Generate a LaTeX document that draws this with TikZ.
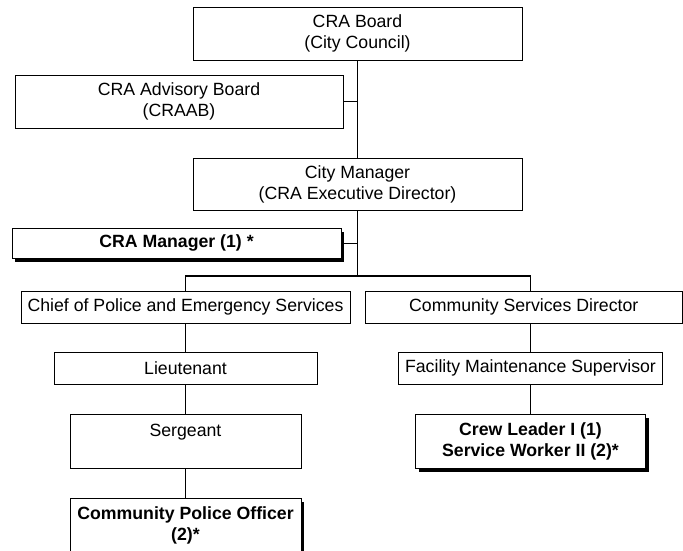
\documentclass[tikz,border=0pt]{standalone}
\usepackage{fontspec}
\setmainfont{Liberation Sans}
\usetikzlibrary{shadows}
\tikzstyle{post} = [draw, fill=white, line width=1pt, align=center, inner sep=0pt, font=\fontsize{17.7}{21}\selectfont]
\tikzstyle{keypost} = [post, font=\fontsize{17.7}{21}\selectfont\bfseries, drop shadow={shadow xshift=3pt, shadow yshift=-3.5pt, fill=black, opacity=1}]

\begin{document}
\begin{tikzpicture}[x=1pt, y=-1pt, line width=1pt]
\useasboundingbox (0,0) rectangle (683,550);
\clip (0,0) rectangle (683,550);

\node[post, minimum width=329pt, minimum height=53pt] (board) at (357.5,33.5) {CRA Board\\(City Council)};
\node[post, minimum width=328pt, minimum height=53pt] (craab) at (179,101.5) {CRA Advisory Board\\(CRAAB)};
\node[post, minimum width=329pt, minimum height=52pt] (citymgr) at (357.5,184) {City Manager\\(CRA Executive Director)};
\node[keypost, minimum width=329pt, minimum height=30pt] (cramgr) at (176.5,243) {CRA Manager (1) *};

\node[post, minimum width=329pt, minimum height=32pt] (chief) at (185.5,307) {Chief of Police and Emergency Services};
\node[post, minimum width=263pt, minimum height=32pt] (lt) at (185.5,368) {Lieutenant};
\node[post, minimum width=231pt, minimum height=54pt] (sgt) at (185.5,441) {Sergeant\\\mbox{}};
\node[keypost, minimum width=231pt, minimum height=54pt] (cpo) at (185.5,525) {Community Police Officer\\(2)*};

\node[post, minimum width=317pt, minimum height=32pt] (csd) at (523.75,307) {Community Services Director};
\node[post, minimum width=264pt, minimum height=32pt] (fms) at (530.5,368) {Facility Maintenance Supervisor};
\node[keypost, minimum width=230pt, minimum height=54pt] (crew) at (530.5,441) {Crew Leader I (1)\\Service Worker II (2)*};

\coordinate (split) at (357.5,276);

\draw (board) -- (citymgr);
\draw (craab.east) -- (craab.east -| board.south);
\draw (citymgr) -- (split);
\draw (cramgr.east) -- (cramgr.east -| citymgr.south);
\draw[line width=1.5pt] (split) -| (chief.north);
\draw[line width=1.5pt] (split) -| (fms.north |- csd.north);

\draw (chief) -- (lt);
\draw (lt) -- (sgt);
\draw (sgt) -- (cpo);

\draw (fms.north |- csd.south) -- (fms);
\draw (fms) -- (crew);
\end{tikzpicture}
\end{document}
